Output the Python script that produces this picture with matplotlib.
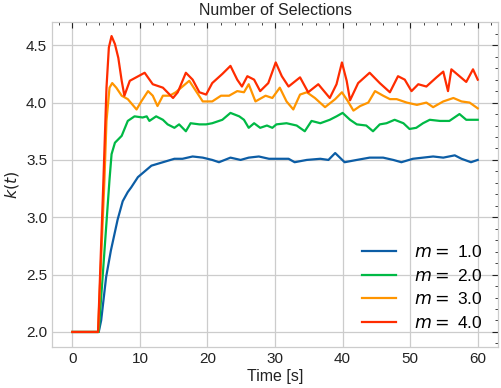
import matplotlib
matplotlib.use("Agg")
import matplotlib.pyplot as plt
from matplotlib.ticker import MultipleLocator

# values
t_m1 = [0, 3.9, 4.26, 5.0, 5.7, 6.7, 7.45, 8.2, 8.7, 9.7, 11.7, 13.4, 15.1, 16.3, 17.8,
        19.3, 20.7, 21.7, 23.4, 24.9, 26.1, 27.6, 29.1, 31.0, 32.0, 32.9, 34.7, 36.7,
        37.9, 38.9, 40.3, 42.1, 44.0, 46.0, 47.5, 48.7, 50.4, 51.9, 53.4, 54.9, 56.6,
        57.6, 59.0, 60.0]
k_m1 = [2.0, 2.0, 2.10, 2.48, 2.71, 2.98, 3.14, 3.22, 3.26, 3.35, 3.45, 3.48, 3.51, 3.51,
        3.53, 3.52, 3.50, 3.48, 3.52, 3.50, 3.52, 3.53, 3.51, 3.51, 3.51, 3.48, 3.50,
        3.51, 3.50, 3.56, 3.48, 3.50, 3.52, 3.52, 3.50, 3.48, 3.51, 3.52, 3.53, 3.52,
        3.54, 3.51, 3.48, 3.50]

t_m2 = [0, 3.9, 5.5, 5.8, 6.3, 7.3, 8.2, 9.2, 10.4, 11.0, 11.4, 12.4, 13.4, 14.1, 15.1,
        15.8, 16.8, 17.5, 18.8, 19.8, 20.7, 22.2, 23.4, 24.7, 25.4, 26.1, 26.9, 27.8,
        28.8, 29.6, 30.2, 31.7, 33.2, 34.4, 35.4, 36.7, 38.1, 39.1, 40.0, 41.1, 42.1,
        43.5, 44.5, 45.5, 46.5, 47.7, 49.0, 49.9, 50.9, 51.9, 52.9, 54.4, 55.8, 57.3,
        58.3, 60.0]
k_m2 = [2.0, 2.0, 3.33, 3.55, 3.65, 3.71, 3.84, 3.88, 3.87, 3.88, 3.84, 3.88, 3.85, 3.81,
        3.78, 3.81, 3.75, 3.82, 3.81, 3.81, 3.82, 3.85, 3.91, 3.88, 3.85, 3.78, 3.82,
        3.78, 3.80, 3.78, 3.81, 3.82, 3.80, 3.75, 3.84, 3.82, 3.85, 3.88, 3.91, 3.85,
        3.81, 3.80, 3.75, 3.81, 3.82, 3.85, 3.82, 3.77, 3.78, 3.82, 3.85, 3.84, 3.84,
        3.90, 3.85, 3.85]

t_m3 = [0, 3.8, 4.75, 5.05, 5.5, 5.9, 6.5, 7.3, 8.2, 9.5, 10.2, 11.2, 11.9, 12.6, 13.4,
        14.4, 15.3, 16.3, 17.3, 18.3, 19.3, 20.7, 22.0, 23.2, 24.4, 25.4, 26.1, 27.1,
        28.6, 29.6, 30.7, 31.7, 32.7, 33.7, 34.7, 35.9, 37.4, 38.9, 39.9, 40.8, 41.6,
        42.6, 43.8, 44.8, 46.0, 47.0, 48.0, 49.5, 51.0, 52.4, 53.4, 54.9, 56.4, 57.6,
        58.8, 60.0]
k_m3 = [2.0, 2.0, 3.33, 3.84, 4.13, 4.17, 4.13, 4.06, 4.03, 3.94, 4.01, 4.10, 4.06, 3.97,
        4.06, 4.06, 4.09, 4.14, 4.19, 4.10, 4.01, 4.01, 4.06, 4.06, 4.10, 4.09, 4.16,
        4.01, 4.06, 4.04, 4.13, 4.01, 3.94, 4.07, 4.09, 4.04, 3.96, 4.03, 4.09, 4.01,
        3.93, 3.97, 4.00, 4.10, 4.06, 4.03, 4.03, 4.00, 3.98, 4.00, 3.96, 4.01, 4.04,
        4.01, 4.00, 3.95]

t_m4 = [0, 3.8, 4.6, 5.05, 5.4, 5.8, 6.3, 6.8, 7.3, 7.7, 8.5, 10.7, 11.9, 13.4, 14.9,
        15.6, 16.8, 17.8, 18.8, 19.8, 20.7, 22.2, 23.4, 24.4, 25.1, 25.9, 26.9, 27.8,
        29.0, 30.1, 31.0, 32.0, 33.7, 34.9, 36.4, 38.1, 39.1, 39.9, 40.6, 41.1, 42.3,
        44.0, 45.5, 47.0, 48.2, 49.2, 50.2, 51.2, 52.4, 53.9, 54.9, 55.6, 56.1, 57.1,
        58.3, 59.3, 60.0]
k_m4 = [2.0, 2.0, 3.33, 4.13, 4.48, 4.58, 4.51, 4.39, 4.19, 4.06, 4.19, 4.26, 4.16, 4.13,
        4.04, 4.09, 4.26, 4.20, 4.09, 4.07, 4.17, 4.25, 4.32, 4.20, 4.14, 4.23, 4.20,
        4.10, 4.17, 4.35, 4.23, 4.14, 4.22, 4.09, 4.16, 4.04, 4.16, 4.35, 4.19, 4.02,
        4.17, 4.26, 4.17, 4.09, 4.23, 4.20, 4.10, 4.16, 4.14, 4.22, 4.27, 4.10, 4.29,
        4.24, 4.18, 4.29, 4.20]

m_values = [1.0, 2.0, 3.0, 4.0]
colors = ['#0C5DA5', '#00B945', '#FF9500', '#FF2C00']

plt.rcParams['font.family'] = ['Liberation Sans', 'DejaVu Sans']

fig = plt.figure(figsize=(5.01, 3.88), dpi=100)
ax = fig.add_axes([0.104, 0.106, 0.89, 0.838])

series = [(t_m1, k_m1), (t_m2, k_m2), (t_m3, k_m3), (t_m4, k_m4)]
for (t, k), m, c in zip(series, m_values, colors):
    ax.plot(t, k, color=c, lw=1.6, label=f'$m = $ {m}')

ax.set_xlim(-3, 63)
ax.set_ylim(1.87, 4.705)
ax.xaxis.set_major_locator(MultipleLocator(10))
ax.xaxis.set_minor_locator(MultipleLocator(2))
ax.yaxis.set_major_locator(MultipleLocator(0.5))
ax.yaxis.set_minor_locator(MultipleLocator(0.1))

ax.grid(True, which='major', color='#cccccc', lw=0.9)
ax.set_axisbelow(True)
for s in ax.spines.values():
    s.set_color('#cccccc')
    s.set_linewidth(0.9)

ax.tick_params(which='both', direction='in', top=True, right=True,
               bottom=False, left=False, colors='#222222', labelsize=11)
ax.tick_params(which='major', length=4)
ax.tick_params(which='minor', length=2)

ax.set_title('Number of Selections', fontsize=11.5, color='#222222', pad=5)
ax.set_xlabel('Time [s]', fontsize=11.5, color='#222222', labelpad=2)
ax.set_ylabel('$k(t)$', fontsize=11.5, color='#222222', labelpad=4)

ax.legend(loc='lower right', frameon=False, fontsize=12.5, handlelength=2.0,
          handletextpad=1.0, labelspacing=0.45)

fig.savefig('out.png', dpi=100)
